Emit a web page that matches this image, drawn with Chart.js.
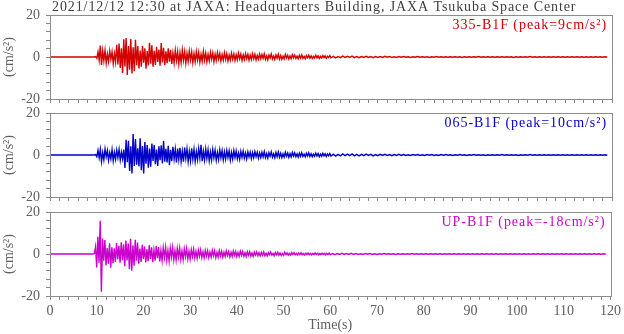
<!DOCTYPE html>
<html>
<head>
<meta charset="utf-8">
<script src="https://cdn.jsdelivr.net/npm/chart.js@4/dist/chart.umd.min.js"></script>
<style>
  html, body { margin: 0; padding: 0; background: #fff; }
  #wrap { position: relative; width: 624px; height: 334px; }
  #wrap canvas { position: absolute; left: 0; top: 0; }
</style>
</head>
<body>
<div id="wrap">
  <canvas id="ew" width="624" height="334"></canvas>
  <canvas id="ns" width="624" height="334"></canvas>
  <canvas id="ud" width="624" height="334"></canvas>
</div>
<script>
// Acceleration records (cm/s^2), three components, same time base.
const HEADING = '2021/12/12 12:30 at JAXA: Headquarters Building, JAXA Tsukuba Space Center';
const TIME_TICKS = [0, 10, 20, 30, 40, 50, 60, 70, 80, 90, 100, 110, 120];
const ACC_TICKS = [-20, 0, 20];

// Quiet record before the arrival.
const LEAD_TIMES = [0, 9.25];
const LEAD_VALUES = [0, 0];

// Strong motion and early coda: one sample every 0.25 s from 9.5 s to 60 s.
const ACTIVE_START = 9.5, ACTIVE_STEP = 0.25;
// Late coda: one sample every 0.5 s from 60.5 s to 119 s.
const TAIL_START = 60.5, TAIL_STEP = 0.5;

const ew335Active = [
  0, 0.2, -0.6, 2.4, -1.5, 5.5, -3.8, 2.9,
  -1.7, 3.2, -2.9, 1.4, -2.2, 2.9, -1.1, 2.4,
  -3.1, 1.6, -2.4, 5.8, -3.5, 6.4, -5.2, 4.1,
  -7.6, 8.4, -4.5, 9.0, -8.6, 5.2, -6.1, 8.6,
  -7.9, 4.6, -6.8, 8.2, -3.9, 5.2, -5.4, 3.1,
  -4.6, 5.3, -2.7, 4.1, -5.6, 2.8, -4.0, 6.8,
  -3.2, 5.6, -4.6, 2.9, -3.8, 4.9, -2.4, 3.6,
  -4.1, 6.6, -2.6, 4.4, -3.9, 2.7, -3.0, 4.1,
  -2.2, 3.4, -3.3, 1.9, -2.8, 3.1, -1.7, 2.6,
  -3.2, 2.0, -2.6, 3.3, -1.6, 2.5, -3.0, 1.8,
  -2.1, 2.8, -1.5, 2.4, -2.7, 1.6, -2.2, 2.5,
  -1.4, 2.2, -2.5, 1.3, -2.0, 2.7, -1.6, 1.9,
  -2.3, 1.2, -1.8, 2.2, -1.1, 1.9, -2.2, 1.4,
  -1.6, 2.1, -1.0, 1.7, -1.9, 1.1, -1.5, 2.0,
  -1.2, 1.6, -1.9, 0.9, -1.5, 1.8, -1.0, 1.4,
  -1.7, 1.1, -1.3, 1.8, -0.9, 1.4, -1.6, 1.0,
  -1.2, 1.6, -0.8, 1.3, -1.5, 0.9, -1.2, 1.5,
  -0.9, 1.3, -1.4, 0.8, -1.1, 1.4, -0.8,
  1.2, -0.7, 1.5, -1.1, 0.6, -1.3, 0.9, -0.5,
  1.4, -0.9, 0.5, -1.2, 1.0, -0.6, 1.3, -1.0,
  0.7, -1.1, 0.4, -0.9, 1.2, -0.5, 0.8, -1.0,
  0.5, -0.8, 1.1, -0.4, 0.9, -0.7, 0.4, -0.9,
  0.8, -0.5, 1.0, -0.6, 0.3, -0.8, 0.7, -0.4,
  0.9, -0.6, 0.5, -0.7, 0.3, -0.5, 0.8, -0.4,
  0.6, -0.7, 0.3, -0.5, 0.7, -0.3, 0.5, -0.6,
  0.4, -0.3, 0.6, -0.4
];
const ew335Tail = [
  0.3, -0.4, 0.2, -0.3, 0.4, -0.2, 0.3, -0.2, 0.4, -0.3,
  0.2, -0.3, 0.2, -0.2, 0.3, -0.2, 0.2, -0.3, 0.2, -0.2,
  0.2, -0.2, 0.3, -0.1, 0.2, -0.2, 0.1, -0.2, 0.2, -0.1,
  0.2, -0.1, 0.1, -0.2, 0.1, -0.1, 0.2, -0.1, 0.1, -0.1,
  0.1, -0.2, 0.1, -0.1, 0.2, -0.1, 0.1, -0.1, 0.1, -0.1,
  0.1, -0.1, 0.1, -0.1, 0.1, -0.2, 0.1, -0.1, 0.1, -0.1,
  0.1, -0.1, 0.2, -0.1, 0.1, -0.1, 0.1, -0.1, 0.1, -0.1,
  0.1, -0.1, 0.1, -0.1, 0.1, -0.1, 0.1, -0.2, 0.1, -0.1,
  0.1, -0.1, 0.1, -0.1, 0.2, -0.1, 0.1, -0.1, 0.1, -0.1,
  0.1, -0.1, 0.1, -0.1, 0.1, -0.1, 0.1, -0.1, 0.1, -0.1,
  0.1, -0.1, 0.1, -0.1, 0.1, -0.1, 0.1, -0.1, 0.1, -0.1,
  0.1, -0.1, 0.1, -0.1, 0.1, -0.1, 0.1, -0.1
];

const ns065Active = [
  0, 0.2, -0.8, 2.2, -1.3, 2.7, -3.0, 1.2,
  -2.3, 2.8, -0.9, 2.1, -2.5, 1.1, -1.8, 2.5,
  -2.7, 1.3, -2.0, 2.3, -1.2, 2.6, -2.4, 1.4,
  -1.8, 2.6, -6.2, 7.2, -3.4, 6.8, -7.6, 4.1,
  -8.8, 10.0, -5.2, 7.6, -4.6, 3.2, -5.4, 8.0,
  -7.2, 4.3, -8.8, 6.2, -4.1, 4.8, -6.0, 3.1,
  -5.6, 5.4, -2.8, 4.8, -4.4, 2.6, -5.2, 4.1,
  -2.5, 4.6, -4.0, 6.6, -3.2, 3.0, -3.6, 4.4,
  -4.8, 2.5, -3.0, 3.9, -1.9, 2.8, -3.6, 3.1,
  -2.1, 3.4, -3.0, 1.8, -3.2, 3.5, -1.6, 2.9,
  -3.1, 1.7, -2.8, 3.2, -2.0, 2.7, -3.0, 1.6,
  -2.2, 3.0, -1.5, 4.8, -2.9, 1.8, -2.4, 2.8,
  -1.6, 2.5, -2.7, 1.4, -2.4, 2.6, -1.3, 2.3,
  -2.5, 1.2, -2.2, 2.4, -1.3, 2.1, -2.3, 1.5,
  -2.0, 2.2, -1.1, 2.0, -2.4, 1.3, -1.9, 2.1,
  -1.2, 1.9, -1.8, 1.0, -2.0, 1.7, -1.1, 1.8,
  -1.5, 1.0, -1.8, 1.5, -0.9, 1.4, -1.7, 1.1,
  -1.3, 1.6, -0.8, 1.3, -1.5, 1.0, -1.2,
  1.3, -0.9, 1.6, -1.2, 0.7, -1.4, 1.1, -0.6,
  1.5, -1.0, 0.6, -1.3, 1.2, -0.8, 1.4, -1.1,
  0.8, -1.2, 0.5, -1.0, 1.3, -0.6, 0.9, -1.1,
  0.6, -0.9, 1.2, -0.5, 1.0, -0.8, 0.5, -1.0,
  0.9, -0.6, 1.1, -0.7, 0.4, -0.9, 0.8, -0.5,
  1.0, -0.7, 0.6, -0.8, 0.4, -0.6, 0.9, -0.5,
  0.7, -0.8, 0.4, -0.6, 0.8, -0.4, 0.6, -0.7,
  0.5, -0.4, 0.7, -0.5
];
const ns065Tail = [
  0.4, -0.5, 0.3, -0.4, 0.5, -0.3, 0.4, -0.3, 0.5, -0.4,
  0.3, -0.4, 0.3, -0.3, 0.4, -0.2, 0.3, -0.4, 0.2, -0.3,
  0.3, -0.2, 0.3, -0.2, 0.2, -0.3, 0.2, -0.2, 0.3, -0.2,
  0.2, -0.2, 0.1, -0.2, 0.2, -0.1, 0.2, -0.2, 0.1, -0.2,
  0.2, -0.1, 0.2, -0.2, 0.1, -0.2, 0.2, -0.1, 0.2, -0.1,
  0.1, -0.2, 0.1, -0.1, 0.2, -0.1, 0.1, -0.2, 0.1, -0.1,
  0.2, -0.1, 0.1, -0.1, 0.1, -0.2, 0.1, -0.1, 0.1, -0.1,
  0.1, -0.1, 0.2, -0.1, 0.1, -0.1, 0.1, -0.1, 0.1, -0.2,
  0.1, -0.1, 0.1, -0.1, 0.2, -0.1, 0.1, -0.1, 0.1, -0.1,
  0.1, -0.1, 0.1, -0.1, 0.1, -0.1, 0.1, -0.1, 0.1, -0.1,
  0.1, -0.1, 0.1, -0.1, 0.1, -0.1, 0.1, -0.1, 0.1, -0.1,
  0.1, -0.1, 0.1, -0.1, 0.1, -0.1, 0.1, -0.1
];

const upActive = [
  0.2, 3.4, -6.4, 8.2, -4.1, 15.8, -18.0, 7.4,
  -3.2, 6.6, -5.4, 2.8, -4.6, 5.1, -6.5, 3.2,
  -4.4, 2.7, -3.8, 5.2, -2.5, 3.9, -4.2, 5.6,
  -2.9, 4.6, -5.8, 6.4, -3.1, 5.0, -7.2, 7.3,
  -8.0, 4.1, -5.6, 6.8, -3.2, 5.4, -4.6, 2.6,
  -3.8, 4.4, -2.3, 3.6, -4.0, 2.2, -3.4, 4.2,
  -2.4, 3.2, -3.9, 1.9, -3.2, 3.8, -2.0, 3.3,
  -3.5, 1.8, -3.1, 3.0, -1.7, 3.2, -2.9, 1.6,
  -3.3, 2.8, -1.5, 3.1, -2.7, 1.6, -2.9, 2.6,
  -1.5, 2.8, -2.5, 1.4, -2.7, 2.4, -1.3, 2.5,
  -2.3, 1.3, -2.4, 2.0, -1.2, 2.3, -1.9, 1.2,
  -2.0, 1.8, -1.1, 1.9, -1.7, 1.0, -1.8, 1.7,
  -1.0, 1.6, -1.7, 0.9, -1.5, 1.7, -0.9, 1.5,
  -1.7, 0.8, -1.5, 1.6, -0.9, 1.3, -1.5, 0.8,
  -1.2, 1.5, -0.7, 1.2, -1.4, 0.8, -1.2, 1.4,
  -0.7, 1.2, -1.3, 0.7, -1.2, 1.3, -0.6, 1.2,
  -1.1, 0.6, -1.2, 1.1, -0.6, 1.1, -1.0, 0.5,
  -1.1, 0.9, -0.5, 1.0, -0.8, 0.6, -0.9,
  0.8, -0.6, 1.0, -0.8, 0.4, -0.9, 0.7, -0.4,
  0.9, -0.6, 0.3, -0.8, 0.7, -0.4, 0.8, -0.6,
  0.5, -0.7, 0.3, -0.6, 0.8, -0.3, 0.5, -0.6,
  0.3, -0.5, 0.7, -0.3, 0.6, -0.4, 0.3, -0.5,
  0.5, -0.3, 0.6, -0.4, 0.2, -0.5, 0.4, -0.3,
  0.5, -0.4, 0.3, -0.4, 0.2, -0.3, 0.5, -0.3,
  0.4, -0.4, 0.2, -0.3, 0.4, -0.2, 0.3, -0.4,
  0.3, -0.2, 0.4, -0.3
];
const upTail = [
  0.2, -0.3, 0.2, -0.2, 0.3, -0.2, 0.2, -0.2, 0.3, -0.2,
  0.2, -0.2, 0.1, -0.2, 0.2, -0.1, 0.2, -0.2, 0.1, -0.2,
  0.1, -0.1, 0.2, -0.1, 0.1, -0.1, 0.1, -0.2, 0.1, -0.1,
  0.1, -0.1, 0.1, -0.1, 0.2, -0.1, 0.1, -0.1, 0.1, -0.1,
  0.1, -0.1, 0.1, -0.1, 0.1, -0.1, 0.1, -0.1, 0.1, -0.1,
  0.1, -0.1, 0.1, -0.1, 0.1, -0.1, 0.1, -0.1, 0.1, -0.1,
  0.1, -0.1, 0.1, -0.1, 0.1, -0.1, 0.1, -0.1, 0.1, -0.1,
  0.1, -0.1, 0.1, -0.1, 0.1, -0.1, 0.1, -0.1, 0.1, -0.1,
  0.1, -0.1, 0.1, -0.1, 0.1, -0.1, 0.1, -0.1, 0.1, -0.1,
  0.1, -0.1, 0.1, -0.1, 0.1, -0.1, 0.1, -0.1, 0.1, -0.1,
  0.1, -0.1, 0.1, -0.1, 0.1, -0.1, 0.1, -0.1, 0.1, -0.1,
  0.1, -0.1, 0.1, -0.1, 0.1, -0.1, 0.1, -0.1
];

const PANELS = [
  { id: 'ew', label: '335-B1F (peak=9cm/s\u00B2)',  color: '#d20000', active: ew335Active, tail: ew335Tail, top: 15,  bottom: 99,  heading: true,  timeLabels: false },
  { id: 'ns', label: '065-B1F (peak=10cm/s\u00B2)', color: '#0000c8', active: ns065Active, tail: ns065Tail, top: 113, bottom: 197, heading: false, timeLabels: false },
  { id: 'ud', label: 'UP-B1F (peak=-18cm/s\u00B2)', color: '#cc00cc', active: upActive,    tail: upTail,    top: 212, bottom: 296, heading: false, timeLabels: true }
];

const SERIF = "'Liberation Serif', 'Times New Roman', serif";
const FRAME_GREY = '#8c8c8c';
const TEXT_GREY = '#606060';
const W = 624, H = 334, PLOT_RIGHT = 612, PLOT_LEFT = 50;

function tracePoints(active, tail) {
  const pts = LEAD_TIMES.map((t, i) => ({ x: t, y: LEAD_VALUES[i] }));
  active.forEach((v, i) => pts.push({ x: ACTIVE_START + i * ACTIVE_STEP, y: v }));
  tail.forEach((v, i) => pts.push({ x: TAIL_START + i * TAIL_STEP, y: v }));
  return pts;
}

// Frame around the plot area, the component label and the heading.
const panelDecor = {
  id: 'panelDecor',
  afterDatasetsDraw(chart, args, opts) {
    const { ctx, chartArea: a } = chart;
    ctx.save();
    ctx.strokeStyle = FRAME_GREY;
    ctx.lineWidth = 1;
    ctx.strokeRect(Math.round(a.left) + 0.5, Math.round(a.top) + 0.5,
                   Math.round(a.right - a.left), Math.round(a.bottom - a.top));
    ctx.font = '14px ' + SERIF;
    ctx.letterSpacing = '0.95px';
    ctx.textBaseline = 'middle';
    ctx.textAlign = 'right';
    ctx.fillStyle = opts.color;
    ctx.fillText(opts.label, a.right - 5, a.top + 10);
    if (opts.heading) {
      ctx.textAlign = 'left';
      ctx.fillStyle = '#404040';
      ctx.letterSpacing = '0.9px';
      ctx.fillText(opts.heading, a.left + 2, 7);
    }
    ctx.restore();
  }
};

PANELS.forEach(p => {
  const showTime = p.timeLabels;
  new Chart(document.getElementById(p.id), {
    type: 'line',
    data: {
      datasets: [{
        data: tracePoints(p.active, p.tail),
        borderColor: p.color,
        borderWidth: 1.4,
        pointRadius: 0,
        tension: 0,
        fill: false
      }]
    },
    options: {
      responsive: false,
      animation: false,
      devicePixelRatio: 1,
      events: [],
      layout: { padding: { left: 0, right: W - PLOT_RIGHT, top: p.top, bottom: showTime ? 0 : H - p.bottom } },
      plugins: {
        legend: { display: false },
        tooltip: { enabled: false },
        title: { display: false },
        panelDecor: { label: p.label, color: p.color, heading: p.heading ? HEADING : '' }
      },
      scales: {
        x: {
          type: 'linear', min: 0, max: 120,
          border: { display: false },
          grid: { drawOnChartArea: false, drawTicks: true, tickLength: 4, color: FRAME_GREY, lineWidth: 1 },
          ticks: {
            stepSize: 2, autoSkip: false, maxRotation: 0, padding: 3,
            color: TEXT_GREY, font: { family: SERIF, size: 14 },
            callback: v => (showTime && TIME_TICKS.includes(v)) ? String(v) : ''
          },
          title: { display: showTime, text: 'Time(s)', color: TEXT_GREY, font: { family: SERIF, size: 14 }, padding: { top: 0, bottom: 0 } },
          afterFit: s => { s.height = showTime ? H - p.bottom : 0; }
        },
        y: {
          min: -20, max: 20,
          border: { display: false },
          grid: { drawOnChartArea: false, drawTicks: true, tickLength: 4, color: FRAME_GREY, lineWidth: 1 },
          ticks: {
            stepSize: 4, autoSkip: false, padding: 6,
            color: TEXT_GREY, font: { family: SERIF, size: 14 },
            callback: v => ACC_TICKS.includes(v) ? String(v) : ''
          },
          title: { display: true, text: '(cm/s\u00B2)', color: TEXT_GREY, font: { family: SERIF, size: 14 }, padding: { top: 1, bottom: 0 } },
          afterFit: s => { s.width = PLOT_LEFT; }
        }
      }
    },
    plugins: [panelDecor]
  });
});
</script>
</body>
</html>
